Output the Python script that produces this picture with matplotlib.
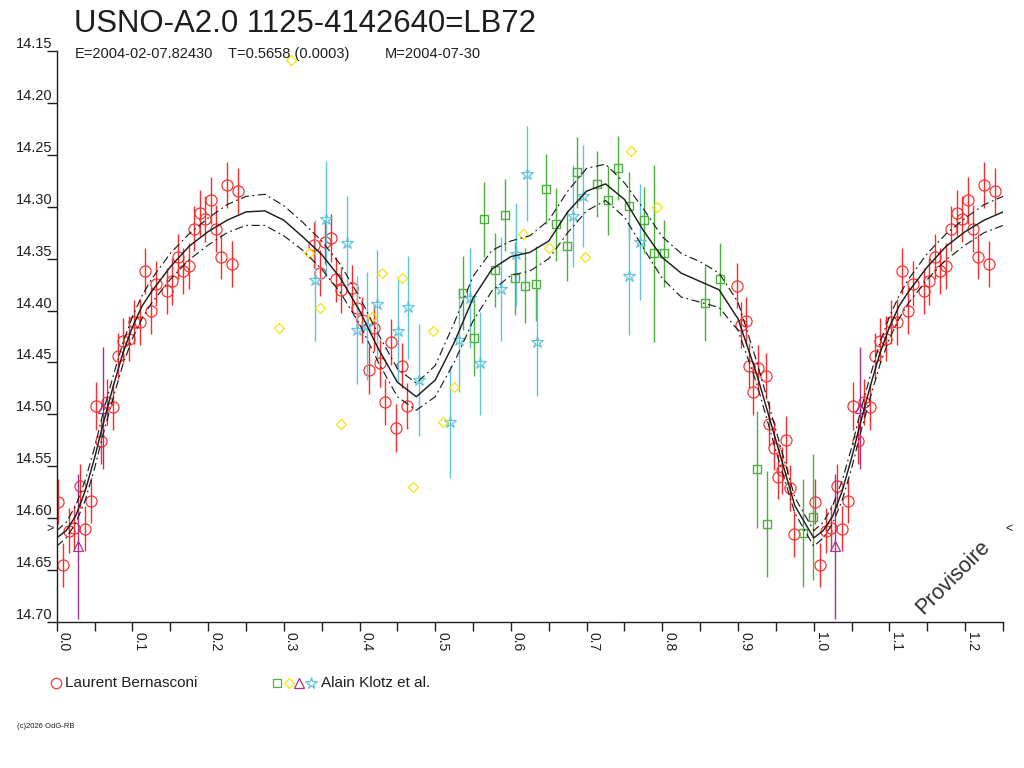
import matplotlib
matplotlib.use("Agg")
import matplotlib.pyplot as plt
from matplotlib.lines import Line2D
from matplotlib.ticker import FormatStrFormatter, MultipleLocator

plt.rcParams['font.family'] = ['Liberation Sans', 'DejaVu Sans']

# Laurent Bernasconi (red circles): phase, magnitude, error
lb_phase = [0.0017, 0.0087, 0.0162, 0.0232, 0.0304, 0.0378, 0.0449, 0.0519, 0.0589, 0.0661,
            0.0744, 0.0814, 0.0880, 0.0951, 0.1025, 0.1100, 0.1170, 0.1242, 0.1312, 0.1453,
            0.1527, 0.1598, 0.1672, 0.1748, 0.1814, 0.1893, 0.1959, 0.2034, 0.2108, 0.2174,
            0.2250, 0.2320, 0.2395,
            0.3403, 0.3478, 0.3548, 0.3623, 0.3690, 0.3760, 0.3897, 0.3971, 0.4029, 0.4122,
            0.4192, 0.4271, 0.4341, 0.4412, 0.4482, 0.4557, 0.4624,
            0.8991, 0.9040, 0.9102, 0.9149, 0.9202, 0.9260, 0.9370, 0.9413, 0.9480, 0.9532,
            0.9585, 0.9630, 0.9687, 0.9740]
lb_mag = [14.584, 14.645, 14.612, 14.609, 14.569, 14.610, 14.583, 14.492, 14.526, 14.488,
          14.493, 14.444, 14.429, 14.427, 14.411, 14.411, 14.362, 14.400, 14.374, 14.381,
          14.372, 14.348, 14.362, 14.357, 14.321, 14.306, 14.312, 14.294, 14.321, 14.348,
          14.279, 14.355, 14.285,
          14.337, 14.364, 14.334, 14.330, 14.370, 14.380, 14.378, 14.398, 14.409, 14.457,
          14.417, 14.451, 14.488, 14.430, 14.513, 14.453, 14.492,
          14.376, 14.414, 14.410, 14.453, 14.478, 14.455, 14.463, 14.509, 14.532, 14.560,
          14.554, 14.525, 14.571, 14.615]
lb_err = [0.022, 0.021, 0.022, 0.022, 0.021, 0.022, 0.022, 0.023, 0.022, 0.022,
          0.022, 0.022, 0.022, 0.022, 0.021, 0.022, 0.022, 0.023, 0.022, 0.022,
          0.023, 0.022, 0.022, 0.022, 0.022, 0.022, 0.022, 0.023, 0.023, 0.022,
          0.022, 0.022, 0.022,
          0.022, 0.022, 0.021, 0.023, 0.022, 0.022, 0.022, 0.022, 0.022, 0.023,
          0.022, 0.023, 0.022, 0.022, 0.023, 0.022, 0.022,
          0.022, 0.022, 0.023, 0.022, 0.023, 0.022, 0.022, 0.022, 0.022, 0.022,
          0.023, 0.023, 0.022, 0.022]

# Alain Klotz et al.: four sub-sets
ak_sq_phase = [0.5371, 0.5512, 0.5649, 0.5790, 0.5918, 0.6058, 0.6190, 0.6332, 0.6464, 0.6600,
               0.6737, 0.6873, 0.7141, 0.7279, 0.7415, 0.7556, 0.7758, 0.7890, 0.8026, 0.8564,
               0.8766, 0.9247, 0.9379, 0.9859, 0.9995]
ak_sq_mag = [14.383, 14.426, 14.312, 14.361, 14.308, 14.369, 14.376, 14.374, 14.283, 14.317,
             14.338, 14.267, 14.278, 14.294, 14.263, 14.299, 14.313, 14.345, 14.345, 14.393,
             14.370, 14.553, 14.606, 14.614, 14.599]
ak_sq_err = [0.036, 0.037, 0.036, 0.036, 0.035, 0.035, 0.036, 0.036, 0.034, 0.035,
             0.034, 0.034, 0.032, 0.033, 0.031, 0.032, 0.032, 0.085, 0.032, 0.036,
             0.035, 0.056, 0.051, 0.052, 0.061]

ak_dia_phase = [0.2937, 0.3091, 0.3337, 0.3478, 0.3752, 0.4161, 0.4301, 0.4565, 0.4703,
                0.4975, 0.5107, 0.5248, 0.6164, 0.6499, 0.6975, 0.7590, 0.7930]
ak_dia_mag = [14.417, 14.159, 14.345, 14.398, 14.509, 14.406, 14.364, 14.369, 14.570,
              14.420, 14.507, 14.474, 14.326, 14.340, 14.348, 14.246, 14.300]

ak_tri_phase = [0.0285, 0.0608]
ak_tri_mag = [14.627, 14.494]
ak_tri_err = [0.070, 0.059]

ak_star_phase = [0.3416, 0.3557, 0.3831, 0.3963, 0.4103, 0.4235, 0.4509, 0.4645, 0.4782,
                 0.5196, 0.5318, 0.5460, 0.5592, 0.5869, 0.6067, 0.6209, 0.6341, 0.6824,
                 0.6956, 0.7564, 0.7705]
ak_star_mag = [14.371, 14.312, 14.335, 14.419, 14.415, 14.394, 14.420, 14.397, 14.467,
               14.507, 14.428, 14.388, 14.451, 14.379, 14.346, 14.268, 14.430, 14.309,
               14.290, 14.367, 14.334]
ak_star_err = [0.058, 0.056, 0.045, 0.052, 0.052, 0.052, 0.050, 0.050, 0.054,
               0.054, 0.050, 0.048, 0.050, 0.050, 0.050, 0.046, 0.052, 0.049,
               0.049, 0.057, 0.056]

# fitted light curve with its upper / lower envelope
fit_phase = [0.0, 0.0125, 0.025, 0.0375, 0.05, 0.0625, 0.075, 0.0875, 0.1, 0.1125, 0.125,
             0.15, 0.175, 0.2, 0.225, 0.25, 0.275, 0.3, 0.325, 0.35, 0.375, 0.4, 0.425,
             0.45, 0.475, 0.5, 0.525, 0.55, 0.575, 0.6, 0.625, 0.65, 0.675, 0.7, 0.725,
             0.75, 0.775, 0.8, 0.825, 0.85, 0.875, 0.9, 0.925, 0.95, 0.975, 1.0]
fit_mag = [14.619, 14.612, 14.598, 14.574, 14.542, 14.506, 14.472, 14.441, 14.416, 14.396,
           14.382, 14.358, 14.338, 14.324, 14.313, 14.305, 14.304, 14.313, 14.329, 14.346,
           14.369, 14.400, 14.437, 14.469, 14.483, 14.467, 14.431, 14.388, 14.360, 14.348,
           14.344, 14.333, 14.305, 14.285, 14.278, 14.293, 14.323, 14.349, 14.364, 14.372,
           14.380, 14.408, 14.462, 14.525, 14.588, 14.619]
fit_upper = [14.612, 14.604, 14.588, 14.564, 14.532, 14.495, 14.462, 14.431, 14.406, 14.386,
             14.370, 14.345, 14.326, 14.311, 14.298, 14.290, 14.288, 14.299, 14.315, 14.333,
             14.356, 14.387, 14.423, 14.456, 14.470, 14.453, 14.412, 14.367, 14.342, 14.333,
             14.328, 14.313, 14.285, 14.263, 14.259, 14.277, 14.302, 14.329, 14.345, 14.353,
             14.364, 14.392, 14.450, 14.515, 14.580, 14.612]
fit_lower = [14.627, 14.619, 14.605, 14.583, 14.552, 14.516, 14.483, 14.452, 14.427, 14.408,
             14.393, 14.370, 14.351, 14.337, 14.325, 14.318, 14.318, 14.328, 14.342, 14.360,
             14.383, 14.413, 14.450, 14.483, 14.496, 14.483, 14.450, 14.410, 14.381, 14.366,
             14.362, 14.350, 14.325, 14.304, 14.294, 14.310, 14.340, 14.369, 14.387, 14.392,
             14.397, 14.419, 14.471, 14.535, 14.595, 14.627]

ref_mag = 14.610
x_max = 1.25

RED = '#f82c2c'
GREEN = '#4cb23c'
YELLOW = '#f4e400'
PURPLE = '#aa2e8a'
CYAN = '#60c4dc'
INK = '#1e1e1e'


def extend(phase, *cols, keep0=True):
    """Repeat the start of the cycle after phase 1 (up to x_max)."""
    ph = list(phase)
    out = [list(c) for c in cols]
    for i, p in enumerate(phase):
        if p + 1 <= x_max and (p > 0 or keep0):
            ph.append(p + 1)
            for o, c in zip(out, cols):
                o.append(c[i])
    return [ph] + out


fig = plt.figure(figsize=(10.24, 7.68), dpi=100)
ax = fig.add_axes([56.7 / 1024, 1 - 622 / 768, (1003 - 56.7) / 1024, (622 - 51) / 768])


def points(phase, mag, err, color, marker, ms, z, mew=0.85):
    ph, m, e = extend(phase, mag, err) if err is not None else extend(phase, mag, mag)
    if err is not None:
        ax.errorbar(ph, m, yerr=e, fmt='none', ecolor=color, elinewidth=1.0,
                    capsize=0, zorder=z)
    ax.plot(ph, m, ls='none', marker=marker, ms=ms, mfc='none', mec=color,
            mew=mew, zorder=z + 0.1)


points(lb_phase, lb_mag, lb_err, RED, 'o', 8, 2)
points(ak_sq_phase, ak_sq_mag, ak_sq_err, GREEN, 's', 5.8, 3, mew=1.0)
points(ak_star_phase, ak_star_mag, ak_star_err, CYAN, '*', 9, 3)
points(ak_tri_phase, ak_tri_mag, ak_tri_err, PURPLE, '^', 7.5, 3)
points(ak_dia_phase, ak_dia_mag, None, YELLOW, 'D', 5.2, 3)

cph, cmid, cup, clo = extend(fit_phase, fit_mag, fit_upper, fit_lower, keep0=False)
ax.plot(cph, cmid, color=INK, lw=1.05, zorder=6)
ax.plot(cph, cup, color=INK, lw=0.85, dashes=(7, 3, 1.5, 3), zorder=6)
ax.plot(cph, clo, color=INK, lw=0.85, dashes=(7, 3, 1.5, 3), zorder=6)

ax.set_xlim(0, x_max)
ax.set_ylim(14.70, 14.15)
for side in ('top', 'right'):
    ax.spines[side].set_visible(False)
for side in ('left', 'bottom'):
    ax.spines[side].set_linewidth(1.0)
    ax.spines[side].set_color(INK)

ax.xaxis.set_major_locator(MultipleLocator(0.1))
ax.xaxis.set_minor_locator(MultipleLocator(0.05))
ax.xaxis.set_major_formatter(FormatStrFormatter('%.1f'))
ax.tick_params(axis='x', which='both', direction='out', length=6.3, width=1.0,
               color=INK, pad=1)
ax.tick_params(axis='x', which='major', labelsize=10, labelrotation=-90, labelcolor=INK)
ax.set_yticks([14.15, 14.20, 14.25, 14.30, 14.35, 14.40, 14.45, 14.50, 14.55, 14.60,
               14.65, 14.70])
ax.yaxis.set_major_formatter(FormatStrFormatter('%.2f'))
ax.tick_params(axis='y', direction='out', length=7.2, width=1.0, color=INK, pad=-4,
               labelsize=10.5, labelcolor=INK)
for lbl in ax.get_xticklabels():
    lbl.set_ha('left')
for lbl in ax.get_yticklabels():
    lbl.set_va('bottom')

# reference marks at both ends
ax.text(-0.003, ref_mag, '>', transform=ax.get_yaxis_transform(), ha='right',
        va='center', fontsize=9, color=INK)
ax.text(1.002, ref_mag, '<', transform=ax.get_yaxis_transform(), ha='left',
        va='center', fontsize=9, color=INK)

# titles
fig.text(74 / 1024, 1 - 31.6 / 768, 'USNO-A2.0 1125-4142640=LB72', fontsize=22.4,
         color=INK, va='baseline')
sub_y = 1 - 58 / 768
fig.text(75 / 1024, sub_y, 'E=2004-02-07.82430', fontsize=10.5, color=INK, va='baseline')
fig.text(228 / 1024, sub_y, 'T=0.5658 (0.0003)', fontsize=10.5, color=INK, va='baseline')
fig.text(385 / 1024, sub_y, 'M=2004-07-30', fontsize=10.5, color=INK, va='baseline')

# legend
leg_y = 1 - 682.7 / 768
txt_y = 1 - 687.3 / 768
fig.add_artist(Line2D([56 / 1024], [leg_y], transform=fig.transFigure, ls='none',
                      marker='o', ms=7.5, mfc='none', mec=RED, mew=0.85))
fig.text(65 / 1024, txt_y, 'Laurent Bernasconi', fontsize=11, color=INK, va='baseline')
for xpix, mk, col, size in [(276.7, 's', GREEN, 5.2), (288.7, 'D', YELLOW, 5),
                            (299.3, '^', PURPLE, 6.8), (310.7, '*', CYAN, 8.5)]:
    fig.add_artist(Line2D([xpix / 1024], [leg_y], transform=fig.transFigure, ls='none',
                          marker=mk, ms=size, mfc='none', mec=col, mew=0.9))
fig.text(321 / 1024, txt_y, 'Alain Klotz et al.', fontsize=11, color=INK, va='baseline')

fig.text(17 / 1024, 1 - 727.7 / 768, '(c)2026 OdG-RB', fontsize=5.5, color=INK,
         va='baseline')

fig.text(953 / 1024, 1 - 577 / 768, 'Provisoire', rotation=45, ha='center',
         va='center', fontsize=15.5, color='#303030')

fig.savefig('out.png', dpi=100)
plt.close(fig)
